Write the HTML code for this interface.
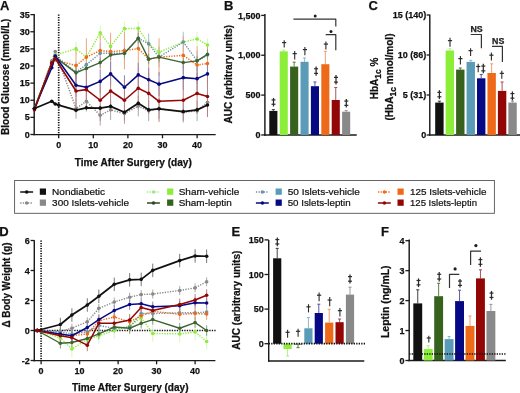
<!DOCTYPE html>
<html><head><meta charset="utf-8"><style>
html,body{margin:0;padding:0;background:#fff;}
svg{display:block;will-change:transform;font-family:"Liberation Sans",sans-serif;}
</style></head><body>
<svg width="520" height="393" viewBox="0 0 520 393">
<rect width="520" height="393" fill="#fff"/>
<text x="0.00" y="10.00" font-size="13" font-weight="bold" text-anchor="start" fill="#111" stroke="#111" stroke-width="0.25">A</text>
<line x1="34.20" y1="14.00" x2="34.20" y2="135.30" stroke="#1a1a1a" stroke-width="1.45"/>
<line x1="30.40" y1="134.50" x2="34.20" y2="134.50" stroke="#1a1a1a" stroke-width="1.3"/>
<text x="29.80" y="137.50" font-size="9.7" font-weight="bold" text-anchor="end" fill="#111" textLength="5.0" lengthAdjust="spacingAndGlyphs" stroke="#111" stroke-width="0.25">0</text>
<line x1="30.40" y1="117.38" x2="34.20" y2="117.38" stroke="#1a1a1a" stroke-width="1.3"/>
<text x="29.80" y="120.38" font-size="9.7" font-weight="bold" text-anchor="end" fill="#111" textLength="5.0" lengthAdjust="spacingAndGlyphs" stroke="#111" stroke-width="0.25">5</text>
<line x1="30.40" y1="100.25" x2="34.20" y2="100.25" stroke="#1a1a1a" stroke-width="1.3"/>
<text x="29.80" y="103.25" font-size="9.7" font-weight="bold" text-anchor="end" fill="#111" textLength="10.01" lengthAdjust="spacingAndGlyphs" stroke="#111" stroke-width="0.25">10</text>
<line x1="30.40" y1="83.12" x2="34.20" y2="83.12" stroke="#1a1a1a" stroke-width="1.3"/>
<text x="29.80" y="86.12" font-size="9.7" font-weight="bold" text-anchor="end" fill="#111" textLength="10.01" lengthAdjust="spacingAndGlyphs" stroke="#111" stroke-width="0.25">15</text>
<line x1="30.40" y1="66.00" x2="34.20" y2="66.00" stroke="#1a1a1a" stroke-width="1.3"/>
<text x="29.80" y="69.00" font-size="9.7" font-weight="bold" text-anchor="end" fill="#111" textLength="10.01" lengthAdjust="spacingAndGlyphs" stroke="#111" stroke-width="0.25">20</text>
<line x1="30.40" y1="48.88" x2="34.20" y2="48.88" stroke="#1a1a1a" stroke-width="1.3"/>
<text x="29.80" y="51.88" font-size="9.7" font-weight="bold" text-anchor="end" fill="#111" textLength="10.01" lengthAdjust="spacingAndGlyphs" stroke="#111" stroke-width="0.25">25</text>
<line x1="30.40" y1="31.75" x2="34.20" y2="31.75" stroke="#1a1a1a" stroke-width="1.3"/>
<text x="29.80" y="34.75" font-size="9.7" font-weight="bold" text-anchor="end" fill="#111" textLength="10.01" lengthAdjust="spacingAndGlyphs" stroke="#111" stroke-width="0.25">30</text>
<line x1="30.40" y1="14.62" x2="34.20" y2="14.62" stroke="#1a1a1a" stroke-width="1.3"/>
<text x="29.80" y="17.62" font-size="9.7" font-weight="bold" text-anchor="end" fill="#111" textLength="10.01" lengthAdjust="spacingAndGlyphs" stroke="#111" stroke-width="0.25">35</text>
<line x1="33.50" y1="134.60" x2="215.70" y2="134.60" stroke="#1a1a1a" stroke-width="1.45"/>
<line x1="58.70" y1="134.60" x2="58.70" y2="138.30" stroke="#1a1a1a" stroke-width="1.3"/>
<text x="58.70" y="148.30" font-size="9.7" font-weight="bold" text-anchor="middle" fill="#111" textLength="5.0" lengthAdjust="spacingAndGlyphs" stroke="#111" stroke-width="0.25">0</text>
<line x1="93.30" y1="134.60" x2="93.30" y2="138.30" stroke="#1a1a1a" stroke-width="1.3"/>
<text x="93.30" y="148.30" font-size="9.7" font-weight="bold" text-anchor="middle" fill="#111" textLength="10.01" lengthAdjust="spacingAndGlyphs" stroke="#111" stroke-width="0.25">10</text>
<line x1="127.90" y1="134.60" x2="127.90" y2="138.30" stroke="#1a1a1a" stroke-width="1.3"/>
<text x="127.90" y="148.30" font-size="9.7" font-weight="bold" text-anchor="middle" fill="#111" textLength="10.01" lengthAdjust="spacingAndGlyphs" stroke="#111" stroke-width="0.25">20</text>
<line x1="162.50" y1="134.60" x2="162.50" y2="138.30" stroke="#1a1a1a" stroke-width="1.3"/>
<text x="162.50" y="148.30" font-size="9.7" font-weight="bold" text-anchor="middle" fill="#111" textLength="10.01" lengthAdjust="spacingAndGlyphs" stroke="#111" stroke-width="0.25">30</text>
<line x1="197.10" y1="134.60" x2="197.10" y2="138.30" stroke="#1a1a1a" stroke-width="1.3"/>
<text x="197.10" y="148.30" font-size="9.7" font-weight="bold" text-anchor="middle" fill="#111" textLength="10.01" lengthAdjust="spacingAndGlyphs" stroke="#111" stroke-width="0.25">40</text>
<text x="74.80" y="165.90" font-size="10.3" font-weight="bold" text-anchor="start" fill="#111" textLength="117" lengthAdjust="spacingAndGlyphs" stroke="#111" stroke-width="0.25">Time After Surgery (day)</text>
<text x="8.90" y="135.00" font-size="10.5" font-weight="bold" text-anchor="start" fill="#111" textLength="116.3" lengthAdjust="spacingAndGlyphs" transform="rotate(-90 8.90 135.00)" stroke="#111" stroke-width="0.25">Blood Glucose (mmol/L)</text>
<line x1="58.70" y1="14.50" x2="58.70" y2="134.60" stroke="#111" stroke-width="1.7" stroke-dasharray="1.3,1.2"/>
<line x1="76.00" y1="98.19" x2="76.00" y2="118.75" stroke="#aaa" stroke-width="1.0"/>
<line x1="86.38" y1="91.00" x2="86.38" y2="111.55" stroke="#aaa" stroke-width="1.0"/>
<line x1="100.22" y1="105.05" x2="100.22" y2="125.59" stroke="#aaa" stroke-width="1.0"/>
<line x1="110.60" y1="99.56" x2="110.60" y2="120.11" stroke="#aaa" stroke-width="1.0"/>
<line x1="124.44" y1="103.33" x2="124.44" y2="123.88" stroke="#aaa" stroke-width="1.0"/>
<line x1="138.28" y1="95.80" x2="138.28" y2="116.35" stroke="#aaa" stroke-width="1.0"/>
<line x1="148.66" y1="100.59" x2="148.66" y2="121.14" stroke="#aaa" stroke-width="1.0"/>
<line x1="159.04" y1="98.19" x2="159.04" y2="118.75" stroke="#aaa" stroke-width="1.0"/>
<line x1="183.26" y1="101.96" x2="183.26" y2="122.51" stroke="#aaa" stroke-width="1.0"/>
<line x1="197.10" y1="100.59" x2="197.10" y2="121.14" stroke="#aaa" stroke-width="1.0"/>
<line x1="207.48" y1="92.03" x2="207.48" y2="112.58" stroke="#aaa" stroke-width="1.0"/>
<line x1="76.00" y1="42.03" x2="76.00" y2="55.73" stroke="#d8f6c0" stroke-width="1.0"/>
<line x1="86.38" y1="50.25" x2="86.38" y2="63.94" stroke="#d8f6c0" stroke-width="1.0"/>
<line x1="100.22" y1="25.93" x2="100.22" y2="39.63" stroke="#d8f6c0" stroke-width="1.0"/>
<line x1="110.60" y1="39.63" x2="110.60" y2="53.33" stroke="#d8f6c0" stroke-width="1.0"/>
<line x1="124.44" y1="21.82" x2="124.44" y2="35.52" stroke="#d8f6c0" stroke-width="1.0"/>
<line x1="138.28" y1="21.48" x2="138.28" y2="35.18" stroke="#d8f6c0" stroke-width="1.0"/>
<line x1="148.66" y1="37.23" x2="148.66" y2="50.93" stroke="#d8f6c0" stroke-width="1.0"/>
<line x1="159.04" y1="45.45" x2="159.04" y2="59.15" stroke="#d8f6c0" stroke-width="1.0"/>
<line x1="183.26" y1="35.18" x2="183.26" y2="48.88" stroke="#d8f6c0" stroke-width="1.0"/>
<line x1="197.10" y1="32.09" x2="197.10" y2="45.79" stroke="#d8f6c0" stroke-width="1.0"/>
<line x1="207.48" y1="38.26" x2="207.48" y2="51.96" stroke="#d8f6c0" stroke-width="1.0"/>
<line x1="76.00" y1="61.89" x2="76.00" y2="82.44" stroke="#a4c4d0" stroke-width="1.0"/>
<line x1="86.38" y1="54.36" x2="86.38" y2="74.91" stroke="#a4c4d0" stroke-width="1.0"/>
<line x1="100.22" y1="43.05" x2="100.22" y2="63.60" stroke="#a4c4d0" stroke-width="1.0"/>
<line x1="110.60" y1="43.05" x2="110.60" y2="63.60" stroke="#a4c4d0" stroke-width="1.0"/>
<line x1="124.44" y1="43.05" x2="124.44" y2="63.60" stroke="#a4c4d0" stroke-width="1.0"/>
<line x1="138.28" y1="27.98" x2="138.28" y2="48.53" stroke="#a4c4d0" stroke-width="1.0"/>
<line x1="148.66" y1="33.46" x2="148.66" y2="54.01" stroke="#a4c4d0" stroke-width="1.0"/>
<line x1="159.04" y1="46.82" x2="159.04" y2="67.37" stroke="#a4c4d0" stroke-width="1.0"/>
<line x1="183.26" y1="31.75" x2="183.26" y2="52.30" stroke="#a4c4d0" stroke-width="1.0"/>
<line x1="197.10" y1="50.59" x2="197.10" y2="71.14" stroke="#a4c4d0" stroke-width="1.0"/>
<line x1="207.48" y1="44.77" x2="207.48" y2="65.32" stroke="#a4c4d0" stroke-width="1.0"/>
<line x1="76.00" y1="46.82" x2="76.00" y2="84.50" stroke="#eda57f" stroke-width="1.0"/>
<line x1="86.38" y1="38.26" x2="86.38" y2="75.93" stroke="#eda57f" stroke-width="1.0"/>
<line x1="100.22" y1="31.75" x2="100.22" y2="69.42" stroke="#eda57f" stroke-width="1.0"/>
<line x1="110.60" y1="32.78" x2="110.60" y2="70.45" stroke="#eda57f" stroke-width="1.0"/>
<line x1="124.44" y1="31.75" x2="124.44" y2="69.42" stroke="#eda57f" stroke-width="1.0"/>
<line x1="138.28" y1="29.70" x2="138.28" y2="67.37" stroke="#eda57f" stroke-width="1.0"/>
<line x1="148.66" y1="40.31" x2="148.66" y2="77.99" stroke="#eda57f" stroke-width="1.0"/>
<line x1="159.04" y1="38.26" x2="159.04" y2="75.93" stroke="#eda57f" stroke-width="1.0"/>
<line x1="183.26" y1="36.55" x2="183.26" y2="74.22" stroke="#eda57f" stroke-width="1.0"/>
<line x1="197.10" y1="46.14" x2="197.10" y2="83.81" stroke="#eda57f" stroke-width="1.0"/>
<line x1="207.48" y1="44.77" x2="207.48" y2="82.44" stroke="#eda57f" stroke-width="1.0"/>
<line x1="76.00" y1="67.71" x2="76.00" y2="77.99" stroke="#8a9a80" stroke-width="1.0"/>
<line x1="86.38" y1="63.26" x2="86.38" y2="73.53" stroke="#8a9a80" stroke-width="1.0"/>
<line x1="100.22" y1="57.44" x2="100.22" y2="67.71" stroke="#8a9a80" stroke-width="1.0"/>
<line x1="110.60" y1="49.90" x2="110.60" y2="60.18" stroke="#8a9a80" stroke-width="1.0"/>
<line x1="124.44" y1="48.19" x2="124.44" y2="58.47" stroke="#8a9a80" stroke-width="1.0"/>
<line x1="138.28" y1="33.12" x2="138.28" y2="43.39" stroke="#8a9a80" stroke-width="1.0"/>
<line x1="148.66" y1="54.01" x2="148.66" y2="64.29" stroke="#8a9a80" stroke-width="1.0"/>
<line x1="159.04" y1="51.96" x2="159.04" y2="62.23" stroke="#8a9a80" stroke-width="1.0"/>
<line x1="183.26" y1="57.44" x2="183.26" y2="67.71" stroke="#8a9a80" stroke-width="1.0"/>
<line x1="197.10" y1="55.73" x2="197.10" y2="66.00" stroke="#8a9a80" stroke-width="1.0"/>
<line x1="207.48" y1="49.22" x2="207.48" y2="59.49" stroke="#8a9a80" stroke-width="1.0"/>
<line x1="76.00" y1="73.19" x2="76.00" y2="97.17" stroke="#8585bb" stroke-width="1.0"/>
<line x1="86.38" y1="75.25" x2="86.38" y2="99.22" stroke="#8585bb" stroke-width="1.0"/>
<line x1="100.22" y1="69.42" x2="100.22" y2="93.40" stroke="#8585bb" stroke-width="1.0"/>
<line x1="110.60" y1="61.89" x2="110.60" y2="85.87" stroke="#8585bb" stroke-width="1.0"/>
<line x1="124.44" y1="75.25" x2="124.44" y2="99.22" stroke="#8585bb" stroke-width="1.0"/>
<line x1="138.28" y1="62.92" x2="138.28" y2="86.89" stroke="#8585bb" stroke-width="1.0"/>
<line x1="148.66" y1="67.71" x2="148.66" y2="91.69" stroke="#8585bb" stroke-width="1.0"/>
<line x1="159.04" y1="72.17" x2="159.04" y2="96.14" stroke="#8585bb" stroke-width="1.0"/>
<line x1="183.26" y1="65.66" x2="183.26" y2="89.63" stroke="#8585bb" stroke-width="1.0"/>
<line x1="197.10" y1="66.69" x2="197.10" y2="90.66" stroke="#8585bb" stroke-width="1.0"/>
<line x1="207.48" y1="61.89" x2="207.48" y2="85.87" stroke="#8585bb" stroke-width="1.0"/>
<line x1="76.00" y1="70.45" x2="76.00" y2="111.55" stroke="#b88080" stroke-width="1.0"/>
<line x1="86.38" y1="69.08" x2="86.38" y2="110.18" stroke="#b88080" stroke-width="1.0"/>
<line x1="100.22" y1="79.70" x2="100.22" y2="120.80" stroke="#b88080" stroke-width="1.0"/>
<line x1="110.60" y1="70.45" x2="110.60" y2="111.55" stroke="#b88080" stroke-width="1.0"/>
<line x1="124.44" y1="79.70" x2="124.44" y2="120.80" stroke="#b88080" stroke-width="1.0"/>
<line x1="138.28" y1="67.71" x2="138.28" y2="108.81" stroke="#b88080" stroke-width="1.0"/>
<line x1="148.66" y1="72.85" x2="148.66" y2="113.95" stroke="#b88080" stroke-width="1.0"/>
<line x1="159.04" y1="80.73" x2="159.04" y2="121.83" stroke="#b88080" stroke-width="1.0"/>
<line x1="183.26" y1="79.70" x2="183.26" y2="120.80" stroke="#b88080" stroke-width="1.0"/>
<line x1="197.10" y1="72.85" x2="197.10" y2="113.95" stroke="#b88080" stroke-width="1.0"/>
<line x1="207.48" y1="75.93" x2="207.48" y2="117.03" stroke="#b88080" stroke-width="1.0"/>
<line x1="58.70" y1="102.99" x2="58.70" y2="107.10" stroke="#555" stroke-width="1.0"/>
<line x1="76.00" y1="108.13" x2="76.00" y2="112.24" stroke="#555" stroke-width="1.0"/>
<line x1="86.38" y1="105.73" x2="86.38" y2="109.84" stroke="#555" stroke-width="1.0"/>
<line x1="100.22" y1="106.07" x2="100.22" y2="110.18" stroke="#555" stroke-width="1.0"/>
<line x1="110.60" y1="104.36" x2="110.60" y2="108.47" stroke="#555" stroke-width="1.0"/>
<line x1="124.44" y1="110.18" x2="124.44" y2="114.29" stroke="#555" stroke-width="1.0"/>
<line x1="138.28" y1="101.28" x2="138.28" y2="105.39" stroke="#555" stroke-width="1.0"/>
<line x1="148.66" y1="107.78" x2="148.66" y2="111.89" stroke="#555" stroke-width="1.0"/>
<line x1="159.04" y1="106.76" x2="159.04" y2="110.87" stroke="#555" stroke-width="1.0"/>
<line x1="183.26" y1="109.50" x2="183.26" y2="113.61" stroke="#555" stroke-width="1.0"/>
<line x1="197.10" y1="107.78" x2="197.10" y2="111.89" stroke="#555" stroke-width="1.0"/>
<line x1="207.48" y1="102.99" x2="207.48" y2="107.10" stroke="#555" stroke-width="1.0"/>
<polyline points="34.48,108.47 51.78,60.86 55.24,51.62 76.00,108.47 86.38,101.28 100.22,115.32 110.60,109.84 124.44,113.61 138.28,106.07 148.66,110.87 159.04,108.47 183.26,112.24 197.10,110.87 207.48,102.31" fill="none" stroke="#898989" stroke-width="1.45" stroke-linejoin="round" stroke-dasharray="1.3,1.3"/>
<circle cx="34.48" cy="108.47" r="1.8" fill="#898989"/>
<circle cx="51.78" cy="60.86" r="1.8" fill="#898989"/>
<circle cx="55.24" cy="51.62" r="1.8" fill="#898989"/>
<circle cx="76.00" cy="108.47" r="1.8" fill="#898989"/>
<circle cx="86.38" cy="101.28" r="1.8" fill="#898989"/>
<circle cx="100.22" cy="115.32" r="1.8" fill="#898989"/>
<circle cx="110.60" cy="109.84" r="1.8" fill="#898989"/>
<circle cx="124.44" cy="113.61" r="1.8" fill="#898989"/>
<circle cx="138.28" cy="106.07" r="1.8" fill="#898989"/>
<circle cx="148.66" cy="110.87" r="1.8" fill="#898989"/>
<circle cx="159.04" cy="108.47" r="1.8" fill="#898989"/>
<circle cx="183.26" cy="112.24" r="1.8" fill="#898989"/>
<circle cx="197.10" cy="110.87" r="1.8" fill="#898989"/>
<circle cx="207.48" cy="102.31" r="1.8" fill="#898989"/>
<polyline points="34.48,108.47 51.78,62.58 55.24,55.04 76.00,48.88 86.38,57.09 100.22,32.78 110.60,46.48 124.44,28.67 138.28,28.33 148.66,44.08 159.04,52.30 183.26,42.03 197.10,38.94 207.48,45.11" fill="none" stroke="#8CEE38" stroke-width="1.45" stroke-linejoin="round" stroke-dasharray="1.3,1.3"/>
<circle cx="34.48" cy="108.47" r="1.8" fill="#8CEE38"/>
<circle cx="51.78" cy="62.58" r="1.8" fill="#8CEE38"/>
<circle cx="55.24" cy="55.04" r="1.8" fill="#8CEE38"/>
<circle cx="76.00" cy="48.88" r="1.8" fill="#8CEE38"/>
<circle cx="86.38" cy="57.09" r="1.8" fill="#8CEE38"/>
<circle cx="100.22" cy="32.78" r="1.8" fill="#8CEE38"/>
<circle cx="110.60" cy="46.48" r="1.8" fill="#8CEE38"/>
<circle cx="124.44" cy="28.67" r="1.8" fill="#8CEE38"/>
<circle cx="138.28" cy="28.33" r="1.8" fill="#8CEE38"/>
<circle cx="148.66" cy="44.08" r="1.8" fill="#8CEE38"/>
<circle cx="159.04" cy="52.30" r="1.8" fill="#8CEE38"/>
<circle cx="183.26" cy="42.03" r="1.8" fill="#8CEE38"/>
<circle cx="197.10" cy="38.94" r="1.8" fill="#8CEE38"/>
<circle cx="207.48" cy="45.11" r="1.8" fill="#8CEE38"/>
<polyline points="34.48,108.47 51.78,62.58 55.24,55.73 76.00,72.17 86.38,64.63 100.22,53.33 110.60,53.33 124.44,53.33 138.28,38.26 148.66,43.74 159.04,57.09 183.26,42.03 197.10,60.86 207.48,55.04" fill="none" stroke="#6A93AC" stroke-width="1.45" stroke-linejoin="round" stroke-dasharray="1.3,1.3"/>
<circle cx="34.48" cy="108.47" r="1.8" fill="#6A93AC"/>
<circle cx="51.78" cy="62.58" r="1.8" fill="#6A93AC"/>
<circle cx="55.24" cy="55.73" r="1.8" fill="#6A93AC"/>
<circle cx="76.00" cy="72.17" r="1.8" fill="#6A93AC"/>
<circle cx="86.38" cy="64.63" r="1.8" fill="#6A93AC"/>
<circle cx="100.22" cy="53.33" r="1.8" fill="#6A93AC"/>
<circle cx="110.60" cy="53.33" r="1.8" fill="#6A93AC"/>
<circle cx="124.44" cy="53.33" r="1.8" fill="#6A93AC"/>
<circle cx="138.28" cy="38.26" r="1.8" fill="#6A93AC"/>
<circle cx="148.66" cy="43.74" r="1.8" fill="#6A93AC"/>
<circle cx="159.04" cy="57.09" r="1.8" fill="#6A93AC"/>
<circle cx="183.26" cy="42.03" r="1.8" fill="#6A93AC"/>
<circle cx="197.10" cy="60.86" r="1.8" fill="#6A93AC"/>
<circle cx="207.48" cy="55.04" r="1.8" fill="#6A93AC"/>
<polyline points="34.48,108.47 51.78,64.29 55.24,59.84 76.00,65.66 86.38,57.09 100.22,50.59 110.60,51.62 124.44,50.59 138.28,48.53 148.66,59.15 159.04,57.09 183.26,55.38 197.10,64.97 207.48,63.60" fill="none" stroke="#EE6A18" stroke-width="1.45" stroke-linejoin="round" stroke-dasharray="1.3,1.3"/>
<circle cx="34.48" cy="108.47" r="1.8" fill="#EE6A18"/>
<circle cx="51.78" cy="64.29" r="1.8" fill="#EE6A18"/>
<circle cx="55.24" cy="59.84" r="1.8" fill="#EE6A18"/>
<circle cx="76.00" cy="65.66" r="1.8" fill="#EE6A18"/>
<circle cx="86.38" cy="57.09" r="1.8" fill="#EE6A18"/>
<circle cx="100.22" cy="50.59" r="1.8" fill="#EE6A18"/>
<circle cx="110.60" cy="51.62" r="1.8" fill="#EE6A18"/>
<circle cx="124.44" cy="50.59" r="1.8" fill="#EE6A18"/>
<circle cx="138.28" cy="48.53" r="1.8" fill="#EE6A18"/>
<circle cx="148.66" cy="59.15" r="1.8" fill="#EE6A18"/>
<circle cx="159.04" cy="57.09" r="1.8" fill="#EE6A18"/>
<circle cx="183.26" cy="55.38" r="1.8" fill="#EE6A18"/>
<circle cx="197.10" cy="64.97" r="1.8" fill="#EE6A18"/>
<circle cx="207.48" cy="63.60" r="1.8" fill="#EE6A18"/>
<polyline points="34.48,108.47 51.78,63.26 55.24,57.09 76.00,72.85 86.38,68.40 100.22,62.58 110.60,55.04 124.44,53.33 138.28,38.26 148.66,59.15 159.04,57.09 183.26,62.58 197.10,60.86 207.48,54.36" fill="none" stroke="#3F6433" stroke-width="1.4" stroke-linejoin="round"/>
<circle cx="34.48" cy="108.47" r="1.8" fill="#3F6433"/>
<circle cx="51.78" cy="63.26" r="1.8" fill="#3F6433"/>
<circle cx="55.24" cy="57.09" r="1.8" fill="#3F6433"/>
<circle cx="76.00" cy="72.85" r="1.8" fill="#3F6433"/>
<circle cx="86.38" cy="68.40" r="1.8" fill="#3F6433"/>
<circle cx="100.22" cy="62.58" r="1.8" fill="#3F6433"/>
<circle cx="110.60" cy="55.04" r="1.8" fill="#3F6433"/>
<circle cx="124.44" cy="53.33" r="1.8" fill="#3F6433"/>
<circle cx="138.28" cy="38.26" r="1.8" fill="#3F6433"/>
<circle cx="148.66" cy="59.15" r="1.8" fill="#3F6433"/>
<circle cx="159.04" cy="57.09" r="1.8" fill="#3F6433"/>
<circle cx="183.26" cy="62.58" r="1.8" fill="#3F6433"/>
<circle cx="197.10" cy="60.86" r="1.8" fill="#3F6433"/>
<circle cx="207.48" cy="54.36" r="1.8" fill="#3F6433"/>
<polyline points="34.48,108.47 51.78,67.71 55.24,56.07 76.00,85.18 86.38,87.23 100.22,81.41 110.60,73.88 124.44,87.23 138.28,74.91 148.66,79.70 159.04,84.15 183.26,77.64 197.10,78.67 207.48,73.88" fill="none" stroke="#070984" stroke-width="1.55" stroke-linejoin="round"/>
<circle cx="34.48" cy="108.47" r="1.8" fill="#070984"/>
<circle cx="51.78" cy="67.71" r="1.8" fill="#070984"/>
<circle cx="55.24" cy="56.07" r="1.8" fill="#070984"/>
<circle cx="76.00" cy="85.18" r="1.8" fill="#070984"/>
<circle cx="86.38" cy="87.23" r="1.8" fill="#070984"/>
<circle cx="100.22" cy="81.41" r="1.8" fill="#070984"/>
<circle cx="110.60" cy="73.88" r="1.8" fill="#070984"/>
<circle cx="124.44" cy="87.23" r="1.8" fill="#070984"/>
<circle cx="138.28" cy="74.91" r="1.8" fill="#070984"/>
<circle cx="148.66" cy="79.70" r="1.8" fill="#070984"/>
<circle cx="159.04" cy="84.15" r="1.8" fill="#070984"/>
<circle cx="183.26" cy="77.64" r="1.8" fill="#070984"/>
<circle cx="197.10" cy="78.67" r="1.8" fill="#070984"/>
<circle cx="207.48" cy="73.88" r="1.8" fill="#070984"/>
<polyline points="34.48,109.84 51.78,62.92 55.24,58.47 76.00,91.00 86.38,89.63 100.22,100.25 110.60,91.00 124.44,100.25 138.28,88.26 148.66,93.40 159.04,101.28 183.26,100.25 197.10,93.40 207.48,96.48" fill="none" stroke="#920606" stroke-width="1.55" stroke-linejoin="round"/>
<circle cx="34.48" cy="109.84" r="1.8" fill="#920606"/>
<circle cx="51.78" cy="62.92" r="1.8" fill="#920606"/>
<circle cx="55.24" cy="58.47" r="1.8" fill="#920606"/>
<circle cx="76.00" cy="91.00" r="1.8" fill="#920606"/>
<circle cx="86.38" cy="89.63" r="1.8" fill="#920606"/>
<circle cx="100.22" cy="100.25" r="1.8" fill="#920606"/>
<circle cx="110.60" cy="91.00" r="1.8" fill="#920606"/>
<circle cx="124.44" cy="100.25" r="1.8" fill="#920606"/>
<circle cx="138.28" cy="88.26" r="1.8" fill="#920606"/>
<circle cx="148.66" cy="93.40" r="1.8" fill="#920606"/>
<circle cx="159.04" cy="101.28" r="1.8" fill="#920606"/>
<circle cx="183.26" cy="100.25" r="1.8" fill="#920606"/>
<circle cx="197.10" cy="93.40" r="1.8" fill="#920606"/>
<circle cx="207.48" cy="96.48" r="1.8" fill="#920606"/>
<polyline points="34.48,108.47 51.78,101.28 55.24,104.02 58.70,105.05 76.00,110.18 86.38,107.78 100.22,108.13 110.60,106.42 124.44,112.24 138.28,103.33 148.66,109.84 159.04,108.81 183.26,111.55 197.10,109.84 207.48,105.05" fill="none" stroke="#111111" stroke-width="1.75" stroke-linejoin="round"/>
<circle cx="34.48" cy="108.47" r="1.8" fill="#111111"/>
<circle cx="51.78" cy="101.28" r="1.8" fill="#111111"/>
<circle cx="55.24" cy="104.02" r="1.8" fill="#111111"/>
<circle cx="58.70" cy="105.05" r="1.8" fill="#111111"/>
<circle cx="76.00" cy="110.18" r="1.8" fill="#111111"/>
<circle cx="86.38" cy="107.78" r="1.8" fill="#111111"/>
<circle cx="100.22" cy="108.13" r="1.8" fill="#111111"/>
<circle cx="110.60" cy="106.42" r="1.8" fill="#111111"/>
<circle cx="124.44" cy="112.24" r="1.8" fill="#111111"/>
<circle cx="138.28" cy="103.33" r="1.8" fill="#111111"/>
<circle cx="148.66" cy="109.84" r="1.8" fill="#111111"/>
<circle cx="159.04" cy="108.81" r="1.8" fill="#111111"/>
<circle cx="183.26" cy="111.55" r="1.8" fill="#111111"/>
<circle cx="197.10" cy="109.84" r="1.8" fill="#111111"/>
<circle cx="207.48" cy="105.05" r="1.8" fill="#111111"/>
<text x="224.00" y="10.30" font-size="13" font-weight="bold" text-anchor="start" fill="#111" stroke="#111" stroke-width="0.25">B</text>
<line x1="264.90" y1="14.00" x2="264.90" y2="135.70" stroke="#1a1a1a" stroke-width="1.45"/>
<line x1="261.20" y1="134.95" x2="264.90" y2="134.95" stroke="#1a1a1a" stroke-width="1.3"/>
<text x="260.40" y="138.05" font-size="9.7" font-weight="bold" text-anchor="end" fill="#111" textLength="5.0" lengthAdjust="spacingAndGlyphs" stroke="#111" stroke-width="0.25">0</text>
<line x1="261.20" y1="95.10" x2="264.90" y2="95.10" stroke="#1a1a1a" stroke-width="1.3"/>
<text x="260.40" y="98.20" font-size="9.7" font-weight="bold" text-anchor="end" fill="#111" textLength="15.01" lengthAdjust="spacingAndGlyphs" stroke="#111" stroke-width="0.25">500</text>
<line x1="261.20" y1="55.25" x2="264.90" y2="55.25" stroke="#1a1a1a" stroke-width="1.3"/>
<text x="260.40" y="58.35" font-size="9.7" font-weight="bold" text-anchor="end" fill="#111" textLength="22.52" lengthAdjust="spacingAndGlyphs" stroke="#111" stroke-width="0.25">1,000</text>
<line x1="261.20" y1="15.40" x2="264.90" y2="15.40" stroke="#1a1a1a" stroke-width="1.3"/>
<text x="260.40" y="18.50" font-size="9.7" font-weight="bold" text-anchor="end" fill="#111" textLength="22.52" lengthAdjust="spacingAndGlyphs" stroke="#111" stroke-width="0.25">1,500</text>
<line x1="264.20" y1="135.00" x2="356.70" y2="135.00" stroke="#1a1a1a" stroke-width="1.45"/>
<text x="231.80" y="123.40" font-size="10.3" font-weight="bold" text-anchor="start" fill="#111" textLength="98.6" lengthAdjust="spacingAndGlyphs" transform="rotate(-90 231.80 123.40)" stroke="#111" stroke-width="0.25">AUC (arbitrary units)</text>
<line x1="273.35" y1="110.90" x2="273.35" y2="109.60" stroke="#444" stroke-width="1.0"/>
<line x1="271.85" y1="109.60" x2="274.85" y2="109.60" stroke="#444" stroke-width="1.1"/>
<rect x="269.30" y="110.90" width="8.10" height="24.10" fill="#111111"/>
<line x1="283.75" y1="51.30" x2="283.75" y2="50.20" stroke="#b5ee88" stroke-width="1.0"/>
<line x1="282.25" y1="50.20" x2="285.25" y2="50.20" stroke="#b5ee88" stroke-width="1.1"/>
<rect x="279.70" y="51.30" width="8.10" height="83.70" fill="#8CEE38"/>
<line x1="294.15" y1="66.60" x2="294.15" y2="62.20" stroke="#5d7f4a" stroke-width="1.0"/>
<line x1="292.65" y1="62.20" x2="295.65" y2="62.20" stroke="#5d7f4a" stroke-width="1.1"/>
<rect x="290.10" y="66.60" width="8.10" height="68.40" fill="#37621D"/>
<line x1="304.55" y1="61.80" x2="304.55" y2="58.00" stroke="#8cb8cc" stroke-width="1.0"/>
<line x1="303.05" y1="58.00" x2="306.05" y2="58.00" stroke="#8cb8cc" stroke-width="1.1"/>
<rect x="300.50" y="61.80" width="8.10" height="73.20" fill="#5A9BB8"/>
<line x1="314.95" y1="86.20" x2="314.95" y2="82.00" stroke="#5a5aa8" stroke-width="1.0"/>
<line x1="313.45" y1="82.00" x2="316.45" y2="82.00" stroke="#5a5aa8" stroke-width="1.1"/>
<rect x="310.90" y="86.20" width="8.10" height="48.80" fill="#070984"/>
<line x1="325.35" y1="64.20" x2="325.35" y2="51.40" stroke="#f0a070" stroke-width="1.0"/>
<line x1="323.85" y1="51.40" x2="326.85" y2="51.40" stroke="#f0a070" stroke-width="1.1"/>
<rect x="321.30" y="64.20" width="8.10" height="70.80" fill="#EE6A18"/>
<line x1="335.75" y1="100.00" x2="335.75" y2="87.50" stroke="#b05050" stroke-width="1.0"/>
<line x1="334.25" y1="87.50" x2="337.25" y2="87.50" stroke="#b05050" stroke-width="1.1"/>
<rect x="331.70" y="100.00" width="8.10" height="35.00" fill="#920606"/>
<line x1="346.15" y1="111.70" x2="346.15" y2="110.50" stroke="#999" stroke-width="1.0"/>
<line x1="344.65" y1="110.50" x2="347.65" y2="110.50" stroke="#999" stroke-width="1.1"/>
<rect x="342.10" y="111.70" width="8.10" height="23.30" fill="#898989"/>
<path d="M273.50,97.90V106.50" stroke="#2a2a2a" stroke-width="1.25"/>
<path d="M271.50,99.96H275.50" stroke="#2a2a2a" stroke-width="1.2"/>
<path d="M271.50,104.26H275.50" stroke="#2a2a2a" stroke-width="1.2"/>
<path d="M284.20,40.30V47.50" stroke="#2a2a2a" stroke-width="1.1"/>
<path d="M282.10,42.60H286.30" stroke="#2a2a2a" stroke-width="1.2"/>
<path d="M294.70,50.90V59.50" stroke="#2a2a2a" stroke-width="1.1"/>
<path d="M292.60,53.65H296.80" stroke="#2a2a2a" stroke-width="1.2"/>
<path d="M304.90,47.00V55.20" stroke="#2a2a2a" stroke-width="1.1"/>
<path d="M302.80,49.62H307.00" stroke="#2a2a2a" stroke-width="1.2"/>
<path d="M316.10,66.50V75.80" stroke="#2a2a2a" stroke-width="1.25"/>
<path d="M314.10,68.73H318.10" stroke="#2a2a2a" stroke-width="1.2"/>
<path d="M314.10,73.38H318.10" stroke="#2a2a2a" stroke-width="1.2"/>
<path d="M325.90,41.50V49.50" stroke="#2a2a2a" stroke-width="1.1"/>
<path d="M323.80,44.06H328.00" stroke="#2a2a2a" stroke-width="1.2"/>
<path d="M336.00,75.10V84.60" stroke="#2a2a2a" stroke-width="1.25"/>
<path d="M334.00,77.38H338.00" stroke="#2a2a2a" stroke-width="1.2"/>
<path d="M334.00,82.13H338.00" stroke="#2a2a2a" stroke-width="1.2"/>
<path d="M346.30,99.00V107.60" stroke="#2a2a2a" stroke-width="1.25"/>
<path d="M344.30,101.06H348.30" stroke="#2a2a2a" stroke-width="1.2"/>
<path d="M344.30,105.36H348.30" stroke="#2a2a2a" stroke-width="1.2"/>
<polyline points="293.40,19.20 335.80,19.20 335.80,26.40" fill="none" stroke="#333" stroke-width="1.2" stroke-linejoin="round"/>
<polyline points="325.70,34.70 335.80,34.70 335.80,50.30" fill="none" stroke="#333" stroke-width="1.2" stroke-linejoin="round"/>
<circle cx="315.20" cy="16.10" r="1.5" fill="#1e1e1e"/>
<circle cx="331.00" cy="31.40" r="1.5" fill="#1e1e1e"/>
<text x="368.40" y="10.30" font-size="13" font-weight="bold" text-anchor="start" fill="#111" stroke="#111" stroke-width="0.25">C</text>
<line x1="429.80" y1="14.60" x2="429.80" y2="135.70" stroke="#1a1a1a" stroke-width="1.45"/>
<line x1="426.60" y1="135.00" x2="429.80" y2="135.00" stroke="#1a1a1a" stroke-width="1.3"/>
<text x="426.30" y="138.10" font-size="9.7" font-weight="bold" text-anchor="end" fill="#111" textLength="5.0" lengthAdjust="spacingAndGlyphs" stroke="#111" stroke-width="0.25">0</text>
<line x1="426.60" y1="95.00" x2="429.80" y2="95.00" stroke="#1a1a1a" stroke-width="1.3"/>
<text x="426.30" y="98.10" font-size="9.7" font-weight="bold" text-anchor="end" fill="#111" textLength="23.51" lengthAdjust="spacingAndGlyphs" stroke="#111" stroke-width="0.25">5 (31)</text>
<line x1="426.60" y1="55.00" x2="429.80" y2="55.00" stroke="#1a1a1a" stroke-width="1.3"/>
<text x="426.30" y="58.10" font-size="9.7" font-weight="bold" text-anchor="end" fill="#111" textLength="28.51" lengthAdjust="spacingAndGlyphs" stroke="#111" stroke-width="0.25">10 (86)</text>
<line x1="426.60" y1="15.00" x2="429.80" y2="15.00" stroke="#1a1a1a" stroke-width="1.3"/>
<text x="426.30" y="18.10" font-size="9.7" font-weight="bold" text-anchor="end" fill="#111" textLength="33.52" lengthAdjust="spacingAndGlyphs" stroke="#111" stroke-width="0.25">15 (140)</text>
<line x1="429.10" y1="135.00" x2="520.00" y2="135.00" stroke="#1a1a1a" stroke-width="1.45"/>
<line x1="439.40" y1="102.60" x2="439.40" y2="101.20" stroke="#444" stroke-width="1.0"/>
<line x1="437.90" y1="101.20" x2="440.90" y2="101.20" stroke="#444" stroke-width="1.1"/>
<rect x="435.20" y="102.60" width="8.40" height="32.40" fill="#111111"/>
<line x1="449.85" y1="50.50" x2="449.85" y2="48.80" stroke="#b5ee88" stroke-width="1.0"/>
<line x1="448.35" y1="48.80" x2="451.35" y2="48.80" stroke="#b5ee88" stroke-width="1.1"/>
<rect x="445.65" y="50.50" width="8.40" height="84.50" fill="#8CEE38"/>
<line x1="460.30" y1="69.60" x2="460.30" y2="68.00" stroke="#5d7f4a" stroke-width="1.0"/>
<line x1="458.80" y1="68.00" x2="461.80" y2="68.00" stroke="#5d7f4a" stroke-width="1.1"/>
<rect x="456.10" y="69.60" width="8.40" height="65.40" fill="#37621D"/>
<line x1="470.75" y1="61.90" x2="470.75" y2="60.40" stroke="#8cb8cc" stroke-width="1.0"/>
<line x1="469.25" y1="60.40" x2="472.25" y2="60.40" stroke="#8cb8cc" stroke-width="1.1"/>
<rect x="466.55" y="61.90" width="8.40" height="73.10" fill="#5A9BB8"/>
<line x1="481.20" y1="78.30" x2="481.20" y2="74.50" stroke="#5a5aa8" stroke-width="1.0"/>
<line x1="479.70" y1="74.50" x2="482.70" y2="74.50" stroke="#5a5aa8" stroke-width="1.1"/>
<rect x="477.00" y="78.30" width="8.40" height="56.70" fill="#070984"/>
<line x1="491.65" y1="73.00" x2="491.65" y2="63.80" stroke="#f0a070" stroke-width="1.0"/>
<line x1="490.15" y1="63.80" x2="493.15" y2="63.80" stroke="#f0a070" stroke-width="1.1"/>
<rect x="487.45" y="73.00" width="8.40" height="62.00" fill="#EE6A18"/>
<line x1="502.10" y1="90.90" x2="502.10" y2="82.00" stroke="#b05050" stroke-width="1.0"/>
<line x1="500.60" y1="82.00" x2="503.60" y2="82.00" stroke="#b05050" stroke-width="1.1"/>
<rect x="497.90" y="90.90" width="8.40" height="44.10" fill="#920606"/>
<line x1="512.55" y1="102.60" x2="512.55" y2="101.20" stroke="#999" stroke-width="1.0"/>
<line x1="511.05" y1="101.20" x2="514.05" y2="101.20" stroke="#999" stroke-width="1.1"/>
<rect x="508.35" y="102.60" width="8.40" height="32.40" fill="#898989"/>
<path d="M439.40,90.20V99.10" stroke="#2a2a2a" stroke-width="1.25"/>
<path d="M437.40,92.34H441.40" stroke="#2a2a2a" stroke-width="1.2"/>
<path d="M437.40,96.79H441.40" stroke="#2a2a2a" stroke-width="1.2"/>
<path d="M450.00,37.80V46.70" stroke="#2a2a2a" stroke-width="1.1"/>
<path d="M447.90,40.65H452.10" stroke="#2a2a2a" stroke-width="1.2"/>
<path d="M460.40,55.90V64.40" stroke="#2a2a2a" stroke-width="1.1"/>
<path d="M458.30,58.62H462.50" stroke="#2a2a2a" stroke-width="1.2"/>
<path d="M470.60,48.20V55.90" stroke="#2a2a2a" stroke-width="1.1"/>
<path d="M468.50,50.66H472.70" stroke="#2a2a2a" stroke-width="1.2"/>
<path d="M478.20,63.80V72.20" stroke="#2a2a2a" stroke-width="1.1"/>
<path d="M476.10,66.49H480.30" stroke="#2a2a2a" stroke-width="1.2"/>
<path d="M483.30,63.80V73.30" stroke="#2a2a2a" stroke-width="1.25"/>
<path d="M481.30,66.08H485.30" stroke="#2a2a2a" stroke-width="1.2"/>
<path d="M481.30,70.83H485.30" stroke="#2a2a2a" stroke-width="1.2"/>
<path d="M491.40,52.60V60.60" stroke="#2a2a2a" stroke-width="1.1"/>
<path d="M489.30,55.16H493.50" stroke="#2a2a2a" stroke-width="1.2"/>
<path d="M501.80,70.80V78.80" stroke="#2a2a2a" stroke-width="1.1"/>
<path d="M499.70,73.36H503.90" stroke="#2a2a2a" stroke-width="1.2"/>
<path d="M512.40,91.40V100.50" stroke="#2a2a2a" stroke-width="1.25"/>
<path d="M510.40,93.58H514.40" stroke="#2a2a2a" stroke-width="1.2"/>
<path d="M510.40,98.13H514.40" stroke="#2a2a2a" stroke-width="1.2"/>
<polyline points="470.70,34.50 481.40,34.50 481.40,48.20" fill="none" stroke="#333" stroke-width="1.2" stroke-linejoin="round"/>
<polyline points="492.00,46.30 502.40,46.30 502.40,62.00" fill="none" stroke="#333" stroke-width="1.2" stroke-linejoin="round"/>
<text x="476.60" y="32.30" font-size="8.5" font-weight="bold" text-anchor="middle" fill="#222" textLength="12.2" lengthAdjust="spacingAndGlyphs" stroke="#222" stroke-width="0.25">NS</text>
<text x="498.20" y="44.10" font-size="8.5" font-weight="bold" text-anchor="middle" fill="#222" textLength="12.2" lengthAdjust="spacingAndGlyphs" stroke="#222" stroke-width="0.25">NS</text>
<text x="378.2" y="78.4" font-size="10" font-weight="bold" text-anchor="middle" fill="#111" stroke="#111" stroke-width="0.25" transform="rotate(-90 378.2 78.4)">HbA<tspan font-size="8.6" dy="2.9">1c</tspan><tspan dy="-2.9"> %</tspan></text>
<text x="393.4" y="77" font-size="10" font-weight="bold" text-anchor="middle" fill="#111" stroke="#111" stroke-width="0.25" transform="rotate(-90 393.4 77)" textLength="87" lengthAdjust="spacingAndGlyphs">(HbA<tspan font-size="8.6" dy="2.9">1c</tspan><tspan dy="-2.9"> mmol/mol)</tspan></text>
<rect x="14.6" y="180.5" width="479.8" height="32.8" fill="none" stroke="#555" stroke-width="0.9"/>
<line x1="20.20" y1="192.00" x2="33.10" y2="192.00" stroke="#111111" stroke-width="1.5"/>
<circle cx="26.70" cy="192.00" r="1.8" fill="#111111"/>
<rect x="39.80" y="188.50" width="6.20" height="6.30" fill="#111111"/>
<text x="52.10" y="194.90" font-size="9.9" font-weight="normal" text-anchor="start" fill="#111" textLength="53" lengthAdjust="spacingAndGlyphs" stroke="#111" stroke-width="0.22">Nondiabetic</text>
<line x1="20.20" y1="203.00" x2="33.10" y2="203.00" stroke="#898989" stroke-width="1.5" stroke-dasharray="1.3,1.3"/>
<circle cx="26.70" cy="203.00" r="1.8" fill="#898989"/>
<rect x="39.80" y="199.50" width="6.20" height="6.30" fill="#898989"/>
<text x="52.10" y="205.90" font-size="9.9" font-weight="normal" text-anchor="start" fill="#111" textLength="77" lengthAdjust="spacingAndGlyphs" stroke="#111" stroke-width="0.22">300 Islets-vehicle</text>
<line x1="147.00" y1="192.00" x2="159.90" y2="192.00" stroke="#A6E88A" stroke-width="1.5" stroke-dasharray="1.3,1.3"/>
<circle cx="153.50" cy="192.00" r="1.8" fill="#A6E88A"/>
<rect x="167.10" y="188.50" width="6.20" height="6.30" fill="#8CEE38"/>
<text x="178.70" y="194.90" font-size="9.9" font-weight="normal" text-anchor="start" fill="#111" textLength="60.6" lengthAdjust="spacingAndGlyphs" stroke="#111" stroke-width="0.22">Sham-vehicle</text>
<line x1="147.00" y1="203.00" x2="159.90" y2="203.00" stroke="#2F4A22" stroke-width="1.5"/>
<circle cx="153.50" cy="203.00" r="1.8" fill="#2F4A22"/>
<rect x="167.10" y="199.50" width="6.20" height="6.30" fill="#37621D"/>
<text x="178.70" y="205.90" font-size="9.9" font-weight="normal" text-anchor="start" fill="#111" textLength="53" lengthAdjust="spacingAndGlyphs" stroke="#111" stroke-width="0.22">Sham-leptin</text>
<line x1="255.90" y1="192.00" x2="268.80" y2="192.00" stroke="#6A93AC" stroke-width="1.5" stroke-dasharray="1.3,1.3"/>
<circle cx="262.40" cy="192.00" r="1.8" fill="#6A93AC"/>
<rect x="275.60" y="188.50" width="6.20" height="6.30" fill="#5A9BB8"/>
<text x="287.70" y="194.90" font-size="9.9" font-weight="normal" text-anchor="start" fill="#111" textLength="72.2" lengthAdjust="spacingAndGlyphs" stroke="#111" stroke-width="0.22">50 Islets-vehicle</text>
<line x1="255.90" y1="203.00" x2="268.80" y2="203.00" stroke="#070984" stroke-width="1.5"/>
<circle cx="262.40" cy="203.00" r="1.8" fill="#070984"/>
<rect x="275.60" y="199.50" width="6.20" height="6.30" fill="#070984"/>
<text x="287.70" y="205.90" font-size="9.9" font-weight="normal" text-anchor="start" fill="#111" textLength="63" lengthAdjust="spacingAndGlyphs" stroke="#111" stroke-width="0.22">50 Islets-leptin</text>
<line x1="377.90" y1="192.00" x2="390.80" y2="192.00" stroke="#EE6A18" stroke-width="1.5" stroke-dasharray="1.3,1.3"/>
<circle cx="384.40" cy="192.00" r="1.8" fill="#EE6A18"/>
<rect x="397.50" y="188.50" width="6.20" height="6.30" fill="#EE6A18"/>
<text x="410.00" y="194.90" font-size="9.9" font-weight="normal" text-anchor="start" fill="#111" textLength="76.4" lengthAdjust="spacingAndGlyphs" stroke="#111" stroke-width="0.22">125 Islets-vehicle</text>
<line x1="377.90" y1="203.00" x2="390.80" y2="203.00" stroke="#920606" stroke-width="1.5"/>
<circle cx="384.40" cy="203.00" r="1.8" fill="#920606"/>
<rect x="397.50" y="199.50" width="6.20" height="6.30" fill="#920606"/>
<text x="410.00" y="205.90" font-size="9.9" font-weight="normal" text-anchor="start" fill="#111" textLength="67" lengthAdjust="spacingAndGlyphs" stroke="#111" stroke-width="0.22">125 Islets-leptin</text>
<text x="-0.80" y="235.50" font-size="13" font-weight="bold" text-anchor="start" fill="#111" stroke="#111" stroke-width="0.25">D</text>
<line x1="34.30" y1="240.20" x2="34.30" y2="361.30" stroke="#1a1a1a" stroke-width="1.45"/>
<line x1="30.60" y1="240.50" x2="34.30" y2="240.50" stroke="#1a1a1a" stroke-width="1.3"/>
<text x="29.80" y="243.60" font-size="9.7" font-weight="bold" text-anchor="end" fill="#111" textLength="5.0" lengthAdjust="spacingAndGlyphs" stroke="#111" stroke-width="0.25">6</text>
<line x1="30.60" y1="270.50" x2="34.30" y2="270.50" stroke="#1a1a1a" stroke-width="1.3"/>
<text x="29.80" y="273.60" font-size="9.7" font-weight="bold" text-anchor="end" fill="#111" textLength="5.0" lengthAdjust="spacingAndGlyphs" stroke="#111" stroke-width="0.25">4</text>
<line x1="30.60" y1="300.50" x2="34.30" y2="300.50" stroke="#1a1a1a" stroke-width="1.3"/>
<text x="29.80" y="303.60" font-size="9.7" font-weight="bold" text-anchor="end" fill="#111" textLength="5.0" lengthAdjust="spacingAndGlyphs" stroke="#111" stroke-width="0.25">2</text>
<line x1="30.60" y1="330.50" x2="34.30" y2="330.50" stroke="#1a1a1a" stroke-width="1.3"/>
<text x="29.80" y="333.60" font-size="9.7" font-weight="bold" text-anchor="end" fill="#111" textLength="5.0" lengthAdjust="spacingAndGlyphs" stroke="#111" stroke-width="0.25">0</text>
<line x1="30.60" y1="360.50" x2="34.30" y2="360.50" stroke="#1a1a1a" stroke-width="1.3"/>
<text x="29.80" y="363.60" font-size="9.7" font-weight="bold" text-anchor="end" fill="#111" textLength="8.0" lengthAdjust="spacingAndGlyphs" stroke="#111" stroke-width="0.25">-2</text>
<line x1="33.60" y1="360.60" x2="215.40" y2="360.60" stroke="#1a1a1a" stroke-width="1.45"/>
<line x1="41.10" y1="360.60" x2="41.10" y2="364.30" stroke="#1a1a1a" stroke-width="1.3"/>
<text x="41.10" y="374.40" font-size="9.7" font-weight="bold" text-anchor="middle" fill="#111" textLength="5.0" lengthAdjust="spacingAndGlyphs" stroke="#111" stroke-width="0.25">0</text>
<line x1="79.60" y1="360.60" x2="79.60" y2="364.30" stroke="#1a1a1a" stroke-width="1.3"/>
<text x="79.60" y="374.40" font-size="9.7" font-weight="bold" text-anchor="middle" fill="#111" textLength="10.01" lengthAdjust="spacingAndGlyphs" stroke="#111" stroke-width="0.25">10</text>
<line x1="118.10" y1="360.60" x2="118.10" y2="364.30" stroke="#1a1a1a" stroke-width="1.3"/>
<text x="118.10" y="374.40" font-size="9.7" font-weight="bold" text-anchor="middle" fill="#111" textLength="10.01" lengthAdjust="spacingAndGlyphs" stroke="#111" stroke-width="0.25">20</text>
<line x1="156.60" y1="360.60" x2="156.60" y2="364.30" stroke="#1a1a1a" stroke-width="1.3"/>
<text x="156.60" y="374.40" font-size="9.7" font-weight="bold" text-anchor="middle" fill="#111" textLength="10.01" lengthAdjust="spacingAndGlyphs" stroke="#111" stroke-width="0.25">30</text>
<line x1="195.10" y1="360.60" x2="195.10" y2="364.30" stroke="#1a1a1a" stroke-width="1.3"/>
<text x="195.10" y="374.40" font-size="9.7" font-weight="bold" text-anchor="middle" fill="#111" textLength="10.01" lengthAdjust="spacingAndGlyphs" stroke="#111" stroke-width="0.25">40</text>
<text x="72.00" y="390.90" font-size="10.3" font-weight="bold" text-anchor="start" fill="#111" textLength="116.5" lengthAdjust="spacingAndGlyphs" stroke="#111" stroke-width="0.25">Time After Surgery (day)</text>
<text x="10.10" y="327.50" font-size="10.3" font-weight="bold" text-anchor="start" fill="#111" textLength="85" lengthAdjust="spacingAndGlyphs" transform="rotate(-90 10.10 327.50)" stroke="#111" stroke-width="0.25">Δ Body Weight (g)</text>
<line x1="41.10" y1="240.50" x2="41.10" y2="360.60" stroke="#111" stroke-width="1.7" stroke-dasharray="1.3,1.2"/>
<line x1="34.30" y1="330.50" x2="216.00" y2="330.50" stroke="#111" stroke-width="1.7" stroke-dasharray="1.3,1.2"/>
<line x1="60.35" y1="326.75" x2="60.35" y2="335.75" stroke="#aaa" stroke-width="1.0"/>
<line x1="71.90" y1="323.75" x2="71.90" y2="332.75" stroke="#aaa" stroke-width="1.0"/>
<line x1="87.30" y1="317.30" x2="87.30" y2="326.30" stroke="#aaa" stroke-width="1.0"/>
<line x1="98.85" y1="303.80" x2="98.85" y2="312.80" stroke="#aaa" stroke-width="1.0"/>
<line x1="114.25" y1="297.50" x2="114.25" y2="306.50" stroke="#aaa" stroke-width="1.0"/>
<line x1="129.65" y1="292.70" x2="129.65" y2="301.70" stroke="#aaa" stroke-width="1.0"/>
<line x1="141.20" y1="290.00" x2="141.20" y2="299.00" stroke="#aaa" stroke-width="1.0"/>
<line x1="152.75" y1="289.55" x2="152.75" y2="298.55" stroke="#aaa" stroke-width="1.0"/>
<line x1="179.70" y1="285.95" x2="179.70" y2="294.95" stroke="#aaa" stroke-width="1.0"/>
<line x1="195.10" y1="283.40" x2="195.10" y2="292.40" stroke="#aaa" stroke-width="1.0"/>
<line x1="206.65" y1="277.25" x2="206.65" y2="286.25" stroke="#aaa" stroke-width="1.0"/>
<line x1="60.35" y1="329.75" x2="60.35" y2="346.25" stroke="#d8f6c0" stroke-width="1.0"/>
<line x1="71.90" y1="340.70" x2="71.90" y2="357.20" stroke="#d8f6c0" stroke-width="1.0"/>
<line x1="87.30" y1="331.25" x2="87.30" y2="347.75" stroke="#d8f6c0" stroke-width="1.0"/>
<line x1="98.85" y1="327.50" x2="98.85" y2="344.00" stroke="#d8f6c0" stroke-width="1.0"/>
<line x1="114.25" y1="322.25" x2="114.25" y2="338.75" stroke="#d8f6c0" stroke-width="1.0"/>
<line x1="129.65" y1="318.05" x2="129.65" y2="334.55" stroke="#d8f6c0" stroke-width="1.0"/>
<line x1="141.20" y1="309.50" x2="141.20" y2="326.00" stroke="#d8f6c0" stroke-width="1.0"/>
<line x1="152.75" y1="325.25" x2="152.75" y2="341.75" stroke="#d8f6c0" stroke-width="1.0"/>
<line x1="179.70" y1="325.70" x2="179.70" y2="342.20" stroke="#d8f6c0" stroke-width="1.0"/>
<line x1="195.10" y1="323.75" x2="195.10" y2="340.25" stroke="#d8f6c0" stroke-width="1.0"/>
<line x1="206.65" y1="333.20" x2="206.65" y2="349.70" stroke="#d8f6c0" stroke-width="1.0"/>
<line x1="60.35" y1="327.50" x2="60.35" y2="336.50" stroke="#a4c4d0" stroke-width="1.0"/>
<line x1="71.90" y1="329.45" x2="71.90" y2="338.45" stroke="#a4c4d0" stroke-width="1.0"/>
<line x1="87.30" y1="327.50" x2="87.30" y2="336.50" stroke="#a4c4d0" stroke-width="1.0"/>
<line x1="98.85" y1="321.05" x2="98.85" y2="330.05" stroke="#a4c4d0" stroke-width="1.0"/>
<line x1="114.25" y1="323.75" x2="114.25" y2="332.75" stroke="#a4c4d0" stroke-width="1.0"/>
<line x1="129.65" y1="322.55" x2="129.65" y2="331.55" stroke="#a4c4d0" stroke-width="1.0"/>
<line x1="141.20" y1="309.05" x2="141.20" y2="318.05" stroke="#a4c4d0" stroke-width="1.0"/>
<line x1="152.75" y1="309.05" x2="152.75" y2="318.05" stroke="#a4c4d0" stroke-width="1.0"/>
<line x1="179.70" y1="308.30" x2="179.70" y2="317.30" stroke="#a4c4d0" stroke-width="1.0"/>
<line x1="195.10" y1="308.30" x2="195.10" y2="317.30" stroke="#a4c4d0" stroke-width="1.0"/>
<line x1="206.65" y1="307.55" x2="206.65" y2="316.55" stroke="#a4c4d0" stroke-width="1.0"/>
<line x1="60.35" y1="329.00" x2="60.35" y2="341.00" stroke="#eda57f" stroke-width="1.0"/>
<line x1="71.90" y1="329.75" x2="71.90" y2="341.75" stroke="#eda57f" stroke-width="1.0"/>
<line x1="87.30" y1="327.95" x2="87.30" y2="339.95" stroke="#eda57f" stroke-width="1.0"/>
<line x1="98.85" y1="314.75" x2="98.85" y2="326.75" stroke="#eda57f" stroke-width="1.0"/>
<line x1="114.25" y1="311.00" x2="114.25" y2="323.00" stroke="#eda57f" stroke-width="1.0"/>
<line x1="129.65" y1="315.80" x2="129.65" y2="327.80" stroke="#eda57f" stroke-width="1.0"/>
<line x1="141.20" y1="309.80" x2="141.20" y2="321.80" stroke="#eda57f" stroke-width="1.0"/>
<line x1="152.75" y1="305.30" x2="152.75" y2="317.30" stroke="#eda57f" stroke-width="1.0"/>
<line x1="179.70" y1="308.30" x2="179.70" y2="320.30" stroke="#eda57f" stroke-width="1.0"/>
<line x1="195.10" y1="307.55" x2="195.10" y2="319.55" stroke="#eda57f" stroke-width="1.0"/>
<line x1="206.65" y1="308.00" x2="206.65" y2="320.00" stroke="#eda57f" stroke-width="1.0"/>
<line x1="60.35" y1="338.00" x2="60.35" y2="348.50" stroke="#8a9a80" stroke-width="1.0"/>
<line x1="71.90" y1="337.25" x2="71.90" y2="347.75" stroke="#8a9a80" stroke-width="1.0"/>
<line x1="87.30" y1="333.20" x2="87.30" y2="343.70" stroke="#8a9a80" stroke-width="1.0"/>
<line x1="98.85" y1="328.70" x2="98.85" y2="339.20" stroke="#8a9a80" stroke-width="1.0"/>
<line x1="114.25" y1="321.80" x2="114.25" y2="332.30" stroke="#8a9a80" stroke-width="1.0"/>
<line x1="129.65" y1="323.00" x2="129.65" y2="333.50" stroke="#8a9a80" stroke-width="1.0"/>
<line x1="141.20" y1="318.05" x2="141.20" y2="328.55" stroke="#8a9a80" stroke-width="1.0"/>
<line x1="152.75" y1="314.30" x2="152.75" y2="324.80" stroke="#8a9a80" stroke-width="1.0"/>
<line x1="179.70" y1="323.00" x2="179.70" y2="333.50" stroke="#8a9a80" stroke-width="1.0"/>
<line x1="195.10" y1="317.30" x2="195.10" y2="327.80" stroke="#8a9a80" stroke-width="1.0"/>
<line x1="206.65" y1="325.25" x2="206.65" y2="335.75" stroke="#8a9a80" stroke-width="1.0"/>
<line x1="60.35" y1="328.70" x2="60.35" y2="339.20" stroke="#8585bb" stroke-width="1.0"/>
<line x1="71.90" y1="330.50" x2="71.90" y2="341.00" stroke="#8585bb" stroke-width="1.0"/>
<line x1="87.30" y1="322.25" x2="87.30" y2="332.75" stroke="#8585bb" stroke-width="1.0"/>
<line x1="98.85" y1="314.30" x2="98.85" y2="324.80" stroke="#8585bb" stroke-width="1.0"/>
<line x1="114.25" y1="305.30" x2="114.25" y2="315.80" stroke="#8585bb" stroke-width="1.0"/>
<line x1="129.65" y1="299.30" x2="129.65" y2="309.80" stroke="#8585bb" stroke-width="1.0"/>
<line x1="141.20" y1="298.55" x2="141.20" y2="309.05" stroke="#8585bb" stroke-width="1.0"/>
<line x1="152.75" y1="301.55" x2="152.75" y2="312.05" stroke="#8585bb" stroke-width="1.0"/>
<line x1="179.70" y1="300.50" x2="179.70" y2="311.00" stroke="#8585bb" stroke-width="1.0"/>
<line x1="195.10" y1="297.50" x2="195.10" y2="308.00" stroke="#8585bb" stroke-width="1.0"/>
<line x1="206.65" y1="297.80" x2="206.65" y2="308.30" stroke="#8585bb" stroke-width="1.0"/>
<line x1="60.35" y1="329.75" x2="60.35" y2="341.75" stroke="#b88080" stroke-width="1.0"/>
<line x1="71.90" y1="331.70" x2="71.90" y2="343.70" stroke="#b88080" stroke-width="1.0"/>
<line x1="87.30" y1="339.20" x2="87.30" y2="351.20" stroke="#b88080" stroke-width="1.0"/>
<line x1="98.85" y1="317.30" x2="98.85" y2="329.30" stroke="#b88080" stroke-width="1.0"/>
<line x1="114.25" y1="317.30" x2="114.25" y2="329.30" stroke="#b88080" stroke-width="1.0"/>
<line x1="129.65" y1="314.00" x2="129.65" y2="326.00" stroke="#b88080" stroke-width="1.0"/>
<line x1="141.20" y1="301.55" x2="141.20" y2="313.55" stroke="#b88080" stroke-width="1.0"/>
<line x1="152.75" y1="304.55" x2="152.75" y2="316.55" stroke="#b88080" stroke-width="1.0"/>
<line x1="179.70" y1="298.55" x2="179.70" y2="310.55" stroke="#b88080" stroke-width="1.0"/>
<line x1="195.10" y1="294.05" x2="195.10" y2="306.05" stroke="#b88080" stroke-width="1.0"/>
<line x1="206.65" y1="289.25" x2="206.65" y2="301.25" stroke="#b88080" stroke-width="1.0"/>
<line x1="60.35" y1="317.75" x2="60.35" y2="331.25" stroke="#777" stroke-width="1.0"/>
<line x1="71.90" y1="308.30" x2="71.90" y2="321.80" stroke="#777" stroke-width="1.0"/>
<line x1="87.30" y1="298.25" x2="87.30" y2="311.75" stroke="#777" stroke-width="1.0"/>
<line x1="98.85" y1="289.55" x2="98.85" y2="303.05" stroke="#777" stroke-width="1.0"/>
<line x1="114.25" y1="277.55" x2="114.25" y2="291.05" stroke="#777" stroke-width="1.0"/>
<line x1="129.65" y1="273.05" x2="129.65" y2="286.55" stroke="#777" stroke-width="1.0"/>
<line x1="141.20" y1="272.60" x2="141.20" y2="286.10" stroke="#777" stroke-width="1.0"/>
<line x1="152.75" y1="263.60" x2="152.75" y2="277.10" stroke="#777" stroke-width="1.0"/>
<line x1="179.70" y1="253.85" x2="179.70" y2="267.35" stroke="#777" stroke-width="1.0"/>
<line x1="195.10" y1="249.20" x2="195.10" y2="262.70" stroke="#777" stroke-width="1.0"/>
<line x1="206.65" y1="249.50" x2="206.65" y2="263.00" stroke="#777" stroke-width="1.0"/>
<polyline points="37.25,330.50 60.35,331.25 71.90,328.25 87.30,321.80 98.85,308.30 114.25,302.00 129.65,297.20 141.20,294.50 152.75,294.05 179.70,290.45 195.10,287.90 206.65,281.75" fill="none" stroke="#898989" stroke-width="1.4" stroke-linejoin="round" stroke-dasharray="1.3,1.3"/>
<circle cx="37.25" cy="330.50" r="1.8" fill="#898989"/>
<circle cx="60.35" cy="331.25" r="1.8" fill="#898989"/>
<circle cx="71.90" cy="328.25" r="1.8" fill="#898989"/>
<circle cx="87.30" cy="321.80" r="1.8" fill="#898989"/>
<circle cx="98.85" cy="308.30" r="1.8" fill="#898989"/>
<circle cx="114.25" cy="302.00" r="1.8" fill="#898989"/>
<circle cx="129.65" cy="297.20" r="1.8" fill="#898989"/>
<circle cx="141.20" cy="294.50" r="1.8" fill="#898989"/>
<circle cx="152.75" cy="294.05" r="1.8" fill="#898989"/>
<circle cx="179.70" cy="290.45" r="1.8" fill="#898989"/>
<circle cx="195.10" cy="287.90" r="1.8" fill="#898989"/>
<circle cx="206.65" cy="281.75" r="1.8" fill="#898989"/>
<polyline points="37.25,330.50 60.35,338.00 71.90,348.95 87.30,339.50 98.85,335.75 114.25,330.50 129.65,326.30 141.20,317.75 152.75,333.50 179.70,333.95 195.10,332.00 206.65,341.45" fill="none" stroke="#8CEE38" stroke-width="1.4" stroke-linejoin="round" stroke-dasharray="1.3,1.3"/>
<circle cx="37.25" cy="330.50" r="1.8" fill="#8CEE38"/>
<circle cx="60.35" cy="338.00" r="1.8" fill="#8CEE38"/>
<circle cx="71.90" cy="348.95" r="1.8" fill="#8CEE38"/>
<circle cx="87.30" cy="339.50" r="1.8" fill="#8CEE38"/>
<circle cx="98.85" cy="335.75" r="1.8" fill="#8CEE38"/>
<circle cx="114.25" cy="330.50" r="1.8" fill="#8CEE38"/>
<circle cx="129.65" cy="326.30" r="1.8" fill="#8CEE38"/>
<circle cx="141.20" cy="317.75" r="1.8" fill="#8CEE38"/>
<circle cx="152.75" cy="333.50" r="1.8" fill="#8CEE38"/>
<circle cx="179.70" cy="333.95" r="1.8" fill="#8CEE38"/>
<circle cx="195.10" cy="332.00" r="1.8" fill="#8CEE38"/>
<circle cx="206.65" cy="341.45" r="1.8" fill="#8CEE38"/>
<polyline points="37.25,330.50 60.35,332.00 71.90,333.95 87.30,332.00 98.85,325.55 114.25,328.25 129.65,327.05 141.20,313.55 152.75,313.55 179.70,312.80 195.10,312.80 206.65,312.05" fill="none" stroke="#6A93AC" stroke-width="1.4" stroke-linejoin="round" stroke-dasharray="1.3,1.3"/>
<circle cx="37.25" cy="330.50" r="1.8" fill="#6A93AC"/>
<circle cx="60.35" cy="332.00" r="1.8" fill="#6A93AC"/>
<circle cx="71.90" cy="333.95" r="1.8" fill="#6A93AC"/>
<circle cx="87.30" cy="332.00" r="1.8" fill="#6A93AC"/>
<circle cx="98.85" cy="325.55" r="1.8" fill="#6A93AC"/>
<circle cx="114.25" cy="328.25" r="1.8" fill="#6A93AC"/>
<circle cx="129.65" cy="327.05" r="1.8" fill="#6A93AC"/>
<circle cx="141.20" cy="313.55" r="1.8" fill="#6A93AC"/>
<circle cx="152.75" cy="313.55" r="1.8" fill="#6A93AC"/>
<circle cx="179.70" cy="312.80" r="1.8" fill="#6A93AC"/>
<circle cx="195.10" cy="312.80" r="1.8" fill="#6A93AC"/>
<circle cx="206.65" cy="312.05" r="1.8" fill="#6A93AC"/>
<polyline points="37.25,330.50 60.35,335.00 71.90,335.75 87.30,333.95 98.85,320.75 114.25,317.00 129.65,321.80 141.20,315.80 152.75,311.30 179.70,314.30 195.10,313.55 206.65,314.00" fill="none" stroke="#EE6A18" stroke-width="1.4" stroke-linejoin="round" stroke-dasharray="1.3,1.3"/>
<circle cx="37.25" cy="330.50" r="1.8" fill="#EE6A18"/>
<circle cx="60.35" cy="335.00" r="1.8" fill="#EE6A18"/>
<circle cx="71.90" cy="335.75" r="1.8" fill="#EE6A18"/>
<circle cx="87.30" cy="333.95" r="1.8" fill="#EE6A18"/>
<circle cx="98.85" cy="320.75" r="1.8" fill="#EE6A18"/>
<circle cx="114.25" cy="317.00" r="1.8" fill="#EE6A18"/>
<circle cx="129.65" cy="321.80" r="1.8" fill="#EE6A18"/>
<circle cx="141.20" cy="315.80" r="1.8" fill="#EE6A18"/>
<circle cx="152.75" cy="311.30" r="1.8" fill="#EE6A18"/>
<circle cx="179.70" cy="314.30" r="1.8" fill="#EE6A18"/>
<circle cx="195.10" cy="313.55" r="1.8" fill="#EE6A18"/>
<circle cx="206.65" cy="314.00" r="1.8" fill="#EE6A18"/>
<polyline points="37.25,330.50 60.35,343.25 71.90,342.50 87.30,338.45 98.85,333.95 114.25,327.05 129.65,328.25 141.20,323.30 152.75,319.55 179.70,328.25 195.10,322.55 206.65,330.50" fill="none" stroke="#3F6433" stroke-width="1.4" stroke-linejoin="round"/>
<circle cx="37.25" cy="330.50" r="1.8" fill="#3F6433"/>
<circle cx="60.35" cy="343.25" r="1.8" fill="#3F6433"/>
<circle cx="71.90" cy="342.50" r="1.8" fill="#3F6433"/>
<circle cx="87.30" cy="338.45" r="1.8" fill="#3F6433"/>
<circle cx="98.85" cy="333.95" r="1.8" fill="#3F6433"/>
<circle cx="114.25" cy="327.05" r="1.8" fill="#3F6433"/>
<circle cx="129.65" cy="328.25" r="1.8" fill="#3F6433"/>
<circle cx="141.20" cy="323.30" r="1.8" fill="#3F6433"/>
<circle cx="152.75" cy="319.55" r="1.8" fill="#3F6433"/>
<circle cx="179.70" cy="328.25" r="1.8" fill="#3F6433"/>
<circle cx="195.10" cy="322.55" r="1.8" fill="#3F6433"/>
<circle cx="206.65" cy="330.50" r="1.8" fill="#3F6433"/>
<polyline points="37.25,330.50 60.35,333.95 71.90,335.75 87.30,327.50 98.85,319.55 114.25,310.55 129.65,304.55 141.20,303.80 152.75,306.80 179.70,305.75 195.10,302.75 206.65,303.05" fill="none" stroke="#070984" stroke-width="1.5" stroke-linejoin="round"/>
<circle cx="37.25" cy="330.50" r="1.8" fill="#070984"/>
<circle cx="60.35" cy="333.95" r="1.8" fill="#070984"/>
<circle cx="71.90" cy="335.75" r="1.8" fill="#070984"/>
<circle cx="87.30" cy="327.50" r="1.8" fill="#070984"/>
<circle cx="98.85" cy="319.55" r="1.8" fill="#070984"/>
<circle cx="114.25" cy="310.55" r="1.8" fill="#070984"/>
<circle cx="129.65" cy="304.55" r="1.8" fill="#070984"/>
<circle cx="141.20" cy="303.80" r="1.8" fill="#070984"/>
<circle cx="152.75" cy="306.80" r="1.8" fill="#070984"/>
<circle cx="179.70" cy="305.75" r="1.8" fill="#070984"/>
<circle cx="195.10" cy="302.75" r="1.8" fill="#070984"/>
<circle cx="206.65" cy="303.05" r="1.8" fill="#070984"/>
<polyline points="37.25,330.50 60.35,335.75 71.90,337.70 87.30,345.20 98.85,323.30 114.25,323.30 129.65,320.00 141.20,307.55 152.75,310.55 179.70,304.55 195.10,300.05 206.65,295.25" fill="none" stroke="#920606" stroke-width="1.5" stroke-linejoin="round"/>
<circle cx="37.25" cy="330.50" r="1.8" fill="#920606"/>
<circle cx="60.35" cy="335.75" r="1.8" fill="#920606"/>
<circle cx="71.90" cy="337.70" r="1.8" fill="#920606"/>
<circle cx="87.30" cy="345.20" r="1.8" fill="#920606"/>
<circle cx="98.85" cy="323.30" r="1.8" fill="#920606"/>
<circle cx="114.25" cy="323.30" r="1.8" fill="#920606"/>
<circle cx="129.65" cy="320.00" r="1.8" fill="#920606"/>
<circle cx="141.20" cy="307.55" r="1.8" fill="#920606"/>
<circle cx="152.75" cy="310.55" r="1.8" fill="#920606"/>
<circle cx="179.70" cy="304.55" r="1.8" fill="#920606"/>
<circle cx="195.10" cy="300.05" r="1.8" fill="#920606"/>
<circle cx="206.65" cy="295.25" r="1.8" fill="#920606"/>
<polyline points="37.25,330.50 60.35,324.50 71.90,315.05 87.30,305.00 98.85,296.30 114.25,284.30 129.65,279.80 141.20,279.35 152.75,270.35 179.70,260.60 195.10,255.95 206.65,256.25" fill="none" stroke="#111111" stroke-width="1.75" stroke-linejoin="round"/>
<circle cx="37.25" cy="330.50" r="1.8" fill="#111111"/>
<circle cx="60.35" cy="324.50" r="1.8" fill="#111111"/>
<circle cx="71.90" cy="315.05" r="1.8" fill="#111111"/>
<circle cx="87.30" cy="305.00" r="1.8" fill="#111111"/>
<circle cx="98.85" cy="296.30" r="1.8" fill="#111111"/>
<circle cx="114.25" cy="284.30" r="1.8" fill="#111111"/>
<circle cx="129.65" cy="279.80" r="1.8" fill="#111111"/>
<circle cx="141.20" cy="279.35" r="1.8" fill="#111111"/>
<circle cx="152.75" cy="270.35" r="1.8" fill="#111111"/>
<circle cx="179.70" cy="260.60" r="1.8" fill="#111111"/>
<circle cx="195.10" cy="255.95" r="1.8" fill="#111111"/>
<circle cx="206.65" cy="256.25" r="1.8" fill="#111111"/>
<circle cx="37.25" cy="330.50" r="1.9" fill="#920606"/>
<text x="231.40" y="235.60" font-size="13" font-weight="bold" text-anchor="start" fill="#111" stroke="#111" stroke-width="0.25">E</text>
<line x1="268.70" y1="240.00" x2="268.70" y2="361.60" stroke="#1a1a1a" stroke-width="1.45"/>
<line x1="264.50" y1="343.70" x2="268.70" y2="343.70" stroke="#1a1a1a" stroke-width="1.3"/>
<text x="263.70" y="346.80" font-size="9.7" font-weight="bold" text-anchor="end" fill="#111" textLength="5.0" lengthAdjust="spacingAndGlyphs" stroke="#111" stroke-width="0.25">0</text>
<line x1="264.50" y1="309.10" x2="268.70" y2="309.10" stroke="#1a1a1a" stroke-width="1.3"/>
<text x="263.70" y="312.20" font-size="9.7" font-weight="bold" text-anchor="end" fill="#111" textLength="10.01" lengthAdjust="spacingAndGlyphs" stroke="#111" stroke-width="0.25">50</text>
<line x1="264.50" y1="274.50" x2="268.70" y2="274.50" stroke="#1a1a1a" stroke-width="1.3"/>
<text x="263.70" y="277.60" font-size="9.7" font-weight="bold" text-anchor="end" fill="#111" textLength="15.01" lengthAdjust="spacingAndGlyphs" stroke="#111" stroke-width="0.25">100</text>
<line x1="264.50" y1="239.90" x2="268.70" y2="239.90" stroke="#1a1a1a" stroke-width="1.3"/>
<text x="263.70" y="243.00" font-size="9.7" font-weight="bold" text-anchor="end" fill="#111" textLength="15.01" lengthAdjust="spacingAndGlyphs" stroke="#111" stroke-width="0.25">150</text>
<line x1="268.00" y1="360.90" x2="364.30" y2="360.90" stroke="#1a1a1a" stroke-width="1.45"/>
<text x="240.10" y="349.80" font-size="10.3" font-weight="bold" text-anchor="start" fill="#111" textLength="99.2" lengthAdjust="spacingAndGlyphs" transform="rotate(-90 240.10 349.80)" stroke="#111" stroke-width="0.25">AUC (arbitrary units)</text>
<line x1="277.20" y1="258.30" x2="277.20" y2="248.40" stroke="#444" stroke-width="1.0"/>
<line x1="275.70" y1="248.40" x2="278.70" y2="248.40" stroke="#444" stroke-width="1.1"/>
<rect x="273.10" y="258.30" width="8.20" height="85.40" fill="#111111"/>
<line x1="287.60" y1="349.00" x2="287.60" y2="356.10" stroke="#b5ee88" stroke-width="1.0"/>
<line x1="286.10" y1="356.10" x2="289.10" y2="356.10" stroke="#b5ee88" stroke-width="1.1"/>
<rect x="283.50" y="343.70" width="8.20" height="5.30" fill="#8CEE38"/>
<line x1="298.00" y1="344.60" x2="298.00" y2="347.60" stroke="#5d7f4a" stroke-width="1.0"/>
<line x1="296.50" y1="347.60" x2="299.50" y2="347.60" stroke="#5d7f4a" stroke-width="1.1"/>
<rect x="293.90" y="343.70" width="8.20" height="0.90" fill="#37621D"/>
<line x1="308.40" y1="328.30" x2="308.40" y2="317.50" stroke="#8cb8cc" stroke-width="1.0"/>
<line x1="306.90" y1="317.50" x2="309.90" y2="317.50" stroke="#8cb8cc" stroke-width="1.1"/>
<rect x="304.30" y="328.30" width="8.20" height="15.40" fill="#5A9BB8"/>
<line x1="318.80" y1="313.00" x2="318.80" y2="304.20" stroke="#5a5aa8" stroke-width="1.0"/>
<line x1="317.30" y1="304.20" x2="320.30" y2="304.20" stroke="#5a5aa8" stroke-width="1.1"/>
<rect x="314.70" y="313.00" width="8.20" height="30.70" fill="#070984"/>
<line x1="329.20" y1="322.60" x2="329.20" y2="309.30" stroke="#f0a070" stroke-width="1.0"/>
<line x1="327.70" y1="309.30" x2="330.70" y2="309.30" stroke="#f0a070" stroke-width="1.1"/>
<rect x="325.10" y="322.60" width="8.20" height="21.10" fill="#EE6A18"/>
<line x1="339.60" y1="322.20" x2="339.60" y2="319.00" stroke="#b05050" stroke-width="1.0"/>
<line x1="338.10" y1="319.00" x2="341.10" y2="319.00" stroke="#b05050" stroke-width="1.1"/>
<rect x="335.50" y="322.20" width="8.20" height="21.50" fill="#920606"/>
<line x1="350.00" y1="294.60" x2="350.00" y2="287.20" stroke="#999" stroke-width="1.0"/>
<line x1="348.50" y1="287.20" x2="351.50" y2="287.20" stroke="#999" stroke-width="1.1"/>
<rect x="345.90" y="294.60" width="8.20" height="49.10" fill="#898989"/>
<line x1="268.70" y1="343.70" x2="365.50" y2="343.70" stroke="#111" stroke-width="1.7" stroke-dasharray="1.3,1.2"/>
<path d="M277.30,237.50V246.20" stroke="#2a2a2a" stroke-width="1.25"/>
<path d="M275.30,239.59H279.30" stroke="#2a2a2a" stroke-width="1.2"/>
<path d="M275.30,243.94H279.30" stroke="#2a2a2a" stroke-width="1.2"/>
<path d="M287.60,329.70V337.80" stroke="#2a2a2a" stroke-width="1.1"/>
<path d="M285.50,332.29H289.70" stroke="#2a2a2a" stroke-width="1.2"/>
<path d="M298.10,328.70V336.80" stroke="#2a2a2a" stroke-width="1.1"/>
<path d="M296.00,331.29H300.20" stroke="#2a2a2a" stroke-width="1.2"/>
<path d="M308.50,304.20V312.40" stroke="#2a2a2a" stroke-width="1.1"/>
<path d="M306.40,306.82H310.60" stroke="#2a2a2a" stroke-width="1.2"/>
<path d="M319.10,292.40V301.20" stroke="#2a2a2a" stroke-width="1.1"/>
<path d="M317.00,295.22H321.20" stroke="#2a2a2a" stroke-width="1.2"/>
<path d="M329.70,297.10V306.30" stroke="#2a2a2a" stroke-width="1.1"/>
<path d="M327.60,300.04H331.80" stroke="#2a2a2a" stroke-width="1.2"/>
<path d="M339.90,307.90V316.50" stroke="#2a2a2a" stroke-width="1.1"/>
<path d="M337.80,310.65H342.00" stroke="#2a2a2a" stroke-width="1.2"/>
<path d="M350.00,274.40V283.60" stroke="#2a2a2a" stroke-width="1.25"/>
<path d="M348.00,276.61H352.00" stroke="#2a2a2a" stroke-width="1.2"/>
<path d="M348.00,281.21H352.00" stroke="#2a2a2a" stroke-width="1.2"/>
<text x="380.90" y="235.80" font-size="13" font-weight="bold" text-anchor="start" fill="#111" stroke="#111" stroke-width="0.25">F</text>
<line x1="409.20" y1="239.50" x2="409.20" y2="361.20" stroke="#1a1a1a" stroke-width="1.45"/>
<line x1="405.40" y1="360.50" x2="409.20" y2="360.50" stroke="#1a1a1a" stroke-width="1.3"/>
<text x="404.60" y="363.60" font-size="9.7" font-weight="bold" text-anchor="end" fill="#111" textLength="5.0" lengthAdjust="spacingAndGlyphs" stroke="#111" stroke-width="0.25">0</text>
<line x1="405.40" y1="330.55" x2="409.20" y2="330.55" stroke="#1a1a1a" stroke-width="1.3"/>
<text x="404.60" y="333.65" font-size="9.7" font-weight="bold" text-anchor="end" fill="#111" textLength="5.0" lengthAdjust="spacingAndGlyphs" stroke="#111" stroke-width="0.25">1</text>
<line x1="405.40" y1="300.60" x2="409.20" y2="300.60" stroke="#1a1a1a" stroke-width="1.3"/>
<text x="404.60" y="303.70" font-size="9.7" font-weight="bold" text-anchor="end" fill="#111" textLength="5.0" lengthAdjust="spacingAndGlyphs" stroke="#111" stroke-width="0.25">2</text>
<line x1="405.40" y1="270.65" x2="409.20" y2="270.65" stroke="#1a1a1a" stroke-width="1.3"/>
<text x="404.60" y="273.75" font-size="9.7" font-weight="bold" text-anchor="end" fill="#111" textLength="5.0" lengthAdjust="spacingAndGlyphs" stroke="#111" stroke-width="0.25">3</text>
<line x1="405.40" y1="240.70" x2="409.20" y2="240.70" stroke="#1a1a1a" stroke-width="1.3"/>
<text x="404.60" y="243.80" font-size="9.7" font-weight="bold" text-anchor="end" fill="#111" textLength="5.0" lengthAdjust="spacingAndGlyphs" stroke="#111" stroke-width="0.25">4</text>
<line x1="408.50" y1="360.50" x2="505.80" y2="360.50" stroke="#1a1a1a" stroke-width="1.45"/>
<text x="389.20" y="338.00" font-size="10.3" font-weight="bold" text-anchor="start" fill="#111" textLength="72.6" lengthAdjust="spacingAndGlyphs" transform="rotate(-90 389.20 338.00)" stroke="#111" stroke-width="0.25">Leptin (ng/mL)</text>
<line x1="417.75" y1="303.40" x2="417.75" y2="289.80" stroke="#444" stroke-width="1.0"/>
<line x1="416.25" y1="289.80" x2="419.25" y2="289.80" stroke="#444" stroke-width="1.1"/>
<rect x="413.30" y="303.40" width="8.90" height="57.10" fill="#111111"/>
<line x1="428.20" y1="349.00" x2="428.20" y2="345.70" stroke="#b5ee88" stroke-width="1.0"/>
<line x1="426.70" y1="345.70" x2="429.70" y2="345.70" stroke="#b5ee88" stroke-width="1.1"/>
<rect x="423.75" y="349.00" width="8.90" height="11.50" fill="#8CEE38"/>
<line x1="438.65" y1="296.20" x2="438.65" y2="283.30" stroke="#5d7f4a" stroke-width="1.0"/>
<line x1="437.15" y1="283.30" x2="440.15" y2="283.30" stroke="#5d7f4a" stroke-width="1.1"/>
<rect x="434.20" y="296.20" width="8.90" height="64.30" fill="#37621D"/>
<line x1="449.10" y1="339.10" x2="449.10" y2="336.50" stroke="#8cb8cc" stroke-width="1.0"/>
<line x1="447.60" y1="336.50" x2="450.60" y2="336.50" stroke="#8cb8cc" stroke-width="1.1"/>
<rect x="444.65" y="339.10" width="8.90" height="21.40" fill="#5A9BB8"/>
<line x1="459.55" y1="301.10" x2="459.55" y2="290.20" stroke="#5a5aa8" stroke-width="1.0"/>
<line x1="458.05" y1="290.20" x2="461.05" y2="290.20" stroke="#5a5aa8" stroke-width="1.1"/>
<rect x="455.10" y="301.10" width="8.90" height="59.40" fill="#070984"/>
<line x1="470.00" y1="325.90" x2="470.00" y2="316.00" stroke="#f0a070" stroke-width="1.0"/>
<line x1="468.50" y1="316.00" x2="471.50" y2="316.00" stroke="#f0a070" stroke-width="1.1"/>
<rect x="465.55" y="325.90" width="8.90" height="34.60" fill="#EE6A18"/>
<line x1="480.45" y1="278.40" x2="480.45" y2="269.80" stroke="#b05050" stroke-width="1.0"/>
<line x1="478.95" y1="269.80" x2="481.95" y2="269.80" stroke="#b05050" stroke-width="1.1"/>
<rect x="476.00" y="278.40" width="8.90" height="82.10" fill="#920606"/>
<line x1="490.90" y1="311.00" x2="490.90" y2="304.40" stroke="#999" stroke-width="1.0"/>
<line x1="489.40" y1="304.40" x2="492.40" y2="304.40" stroke="#999" stroke-width="1.1"/>
<rect x="486.45" y="311.00" width="8.90" height="49.50" fill="#898989"/>
<line x1="409.20" y1="354.00" x2="505.80" y2="354.00" stroke="#111" stroke-width="1.7" stroke-dasharray="1.3,1.2"/>
<path d="M418.50,278.40V287.10" stroke="#2a2a2a" stroke-width="1.25"/>
<path d="M416.50,280.49H420.50" stroke="#2a2a2a" stroke-width="1.2"/>
<path d="M416.50,284.84H420.50" stroke="#2a2a2a" stroke-width="1.2"/>
<path d="M428.80,335.80V342.60" stroke="#2a2a2a" stroke-width="1.1"/>
<path d="M426.70,337.98H430.90" stroke="#2a2a2a" stroke-width="1.2"/>
<path d="M439.20,272.00V281.50" stroke="#2a2a2a" stroke-width="1.25"/>
<path d="M437.20,274.28H441.20" stroke="#2a2a2a" stroke-width="1.2"/>
<path d="M437.20,279.03H441.20" stroke="#2a2a2a" stroke-width="1.2"/>
<path d="M460.00,279.00V287.60" stroke="#2a2a2a" stroke-width="1.25"/>
<path d="M458.00,281.06H462.00" stroke="#2a2a2a" stroke-width="1.2"/>
<path d="M458.00,285.36H462.00" stroke="#2a2a2a" stroke-width="1.2"/>
<path d="M480.40,257.30V266.80" stroke="#2a2a2a" stroke-width="1.25"/>
<path d="M478.40,259.58H482.40" stroke="#2a2a2a" stroke-width="1.2"/>
<path d="M478.40,264.33H482.40" stroke="#2a2a2a" stroke-width="1.2"/>
<path d="M491.50,291.00V299.70" stroke="#2a2a2a" stroke-width="1.25"/>
<path d="M489.50,293.09H493.50" stroke="#2a2a2a" stroke-width="1.2"/>
<path d="M489.50,297.44H493.50" stroke="#2a2a2a" stroke-width="1.2"/>
<polyline points="449.50,288.10 449.50,274.30 459.30,274.30" fill="none" stroke="#333" stroke-width="1.2" stroke-linejoin="round"/>
<polyline points="470.60,265.10 470.60,251.20 481.00,251.20" fill="none" stroke="#333" stroke-width="1.2" stroke-linejoin="round"/>
<circle cx="455.10" cy="268.90" r="1.6" fill="#1e1e1e"/>
<circle cx="475.90" cy="245.60" r="1.6" fill="#1e1e1e"/>
</svg>
</body></html>
